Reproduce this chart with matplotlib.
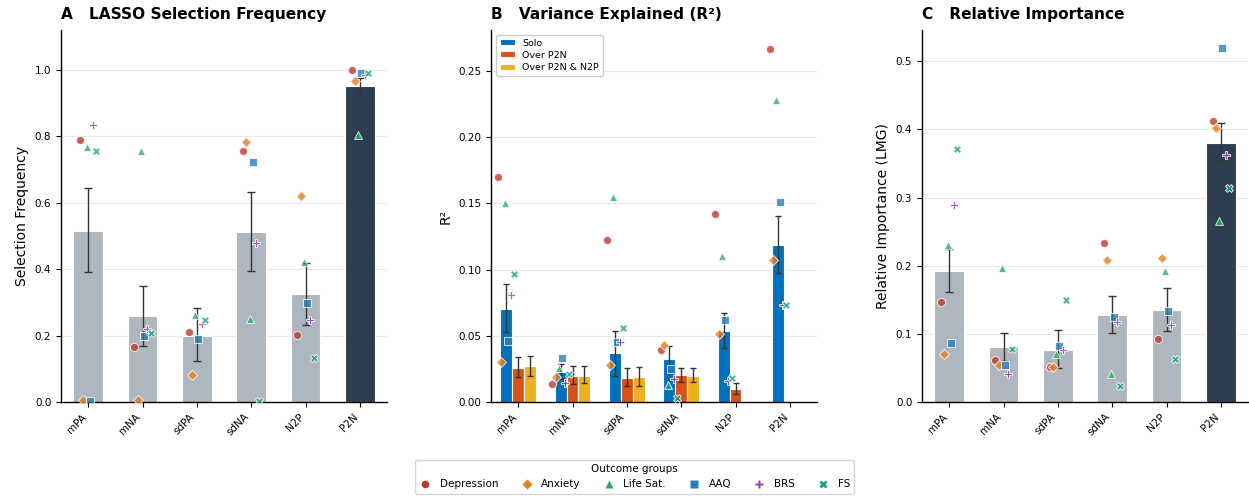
import numpy as np
import matplotlib
matplotlib.use("Agg")
import matplotlib.pyplot as plt
from matplotlib.lines import Line2D

# Data
predictors = ["mPA", "mNA", "sdPA", "sdNA", "N2P", "P2N"]
outcomes = ["Depression", "Anxiety", "Life Sat.", "AAQ", "BRS", "FS"]

# A: LASSO selection frequency (mean and error range)
lasso_mean = [0.515, 0.26, 0.20, 0.512, 0.325, 0.952]
lasso_lo = [0.39, 0.17, 0.123, 0.395, 0.233, 0.928]
lasso_hi = [0.645, 0.35, 0.283, 0.633, 0.42, 0.976]
lasso_dep = [0.79, 0.165, 0.21, 0.755, 0.203, 1.0]
lasso_anx = [0.005, 0.007, 0.082, 0.783, 0.62, 0.965]
lasso_life = [0.767, 0.757, 0.262, 0.249, 0.423, 0.805]
lasso_aaq = [0.003, 0.20, 0.189, 0.722, 0.297, 0.99]
lasso_brs = [0.833, 0.22, 0.236, 0.478, 0.246, 0.984]
lasso_fs = [0.757, 0.209, 0.248, 0.003, 0.133, 0.992]

# B: variance explained
r2_labels = ["Solo", "Over P2N", "Over P2N & N2P"]
r2_solo = [0.0702, 0.0224, 0.0368, 0.0327, 0.0536, 0.1186]
r2_solo_lo = [0.0526, 0.017, 0.020, 0.0234, 0.041, 0.0977]
r2_solo_hi = [0.089, 0.029, 0.054, 0.042, 0.0675, 0.1407]
r2_p2n = [0.026, 0.020, 0.018, 0.0204, 0.0098, np.nan]
r2_p2n_lo = [0.019, 0.0138, 0.012, 0.0149, 0.006, np.nan]
r2_p2n_hi = [0.034, 0.027, 0.0254, 0.026, 0.0146, np.nan]
r2_both = [0.027, 0.020, 0.019, 0.020, np.nan, np.nan]
r2_both_lo = [0.020, 0.014, 0.012, 0.0149, np.nan, np.nan]
r2_both_hi = [0.035, 0.027, 0.0267, 0.0258, np.nan, np.nan]
r2_dep = [0.170, 0.0135, 0.122, 0.039, 0.142, 0.267]
r2_anx = [0.030, 0.019, 0.028, 0.043, 0.051, 0.107]
r2_life = [0.150, 0.026, 0.155, 0.013, 0.110, 0.228]
r2_aaq = [0.046, 0.033, 0.045, 0.025, 0.062, 0.151]
r2_brs = [0.081, 0.014, 0.045, 0.017, 0.016, 0.073]
r2_fs = [0.097, 0.021, 0.056, 0.003, 0.018, 0.073]

# C: relative importance (LMG)
lmg_mean = [0.1926, 0.080, 0.077, 0.1276, 0.1354, 0.380]
lmg_lo = [0.161, 0.0606, 0.050, 0.1007, 0.1046, 0.353]
lmg_hi = [0.224, 0.101, 0.106, 0.156, 0.1676, 0.4096]
lmg_dep = [0.147, 0.062, 0.052, 0.233, 0.093, 0.413]
lmg_anx = [0.071, 0.054, 0.051, 0.209, 0.212, 0.402]
lmg_life = [0.230, 0.196, 0.071, 0.041, 0.192, 0.265]
lmg_aaq = [0.086, 0.055, 0.082, 0.125, 0.133, 0.519]
lmg_brs = [0.289, 0.041, 0.077, 0.118, 0.113, 0.363]
lmg_fs = [0.371, 0.078, 0.149, 0.024, 0.063, 0.314]

# Styles
out_colors = ["#c0392b", "#e67e22", "#27ae60", "#2980b9", "#8e44ad", "#16a085"]
out_markers = ["o", "D", "^", "s", "P", "X"]
out_sizes = [34, 26, 32, 28, 40, 32]
bar_gray = "#aeb6bf"
bar_dark = "#2c3e50"
r2_colors = ["#0072BD", "#D95319", "#EDB120"]
err_col = "#333333"

plt.rcParams["font.family"] = "DejaVu Sans"

fig = plt.figure(figsize=(12.49, 4.97), dpi=100)
W, H = 1249, 497
def add_ax(left_px):
    return fig.add_axes([left_px / W, 1 - 402 / H, 326 / W, 372 / H])

axA = add_ax(61)
axB = add_ax(491)
axC = add_ax(922)

x = np.arange(len(predictors))
offsets = np.linspace(-0.15, 0.15, len(outcomes))


def style_axis(ax, title, ylabel):
    for s in ["top", "right"]:
        ax.spines[s].set_visible(False)
    ax.spines["left"].set_linewidth(1.0)
    ax.spines["bottom"].set_linewidth(1.0)
    ax.yaxis.grid(True, color="#e8e8e8", linewidth=0.8)
    ax.set_axisbelow(True)
    ax.set_xlim(-0.5, len(predictors) - 0.5)
    ax.set_xticks(x)
    ax.set_xticklabels(predictors, rotation=45, ha="right", fontsize=7.5)
    ax.tick_params(axis="y", labelsize=7.5, length=3.5, width=0.8)
    ax.tick_params(axis="x", length=3.5, width=0.8)
    ax.set_ylabel(ylabel, fontsize=10)
    ax.set_title(title, loc="left", fontsize=11.1, fontweight="bold", pad=8)


def scatter_points(ax, centers, groups):
    for i, vals in enumerate(groups):
        ax.scatter(centers + offsets[i], vals, s=out_sizes[i], marker=out_markers[i],
                   color=out_colors[i], alpha=0.8, edgecolor="white",
                   linewidth=0.7, zorder=4)


def bar_panel(ax, mean, lo, hi, groups):
    colors = [bar_gray] * (len(predictors) - 1) + [bar_dark]
    ax.bar(x, mean, width=0.55, color=colors, edgecolor="white", linewidth=0.8, zorder=2)
    mean = np.array(mean)
    yerr = [mean - np.array(lo), np.array(hi) - mean]
    ax.errorbar(x, mean, yerr=yerr, fmt="none", ecolor=err_col, elinewidth=1.0,
                capsize=3, capthick=1.0, zorder=3)
    scatter_points(ax, x.astype(float), groups)


# A
bar_panel(axA, lasso_mean, lasso_lo, lasso_hi,
          [lasso_dep, lasso_anx, lasso_life, lasso_aaq, lasso_brs, lasso_fs])
axA.set_ylim(0, 1.12)
axA.set_yticks(np.arange(0, 1.01, 0.2))
axA.set_yticklabels([f"{v:.1f}" for v in np.arange(0, 1.01, 0.2)])
style_axis(axA, "A   LASSO Selection Frequency", "Selection Frequency")

# B
bw = 0.22
series = [(r2_solo, r2_solo_lo, r2_solo_hi), (r2_p2n, r2_p2n_lo, r2_p2n_hi),
          (r2_both, r2_both_lo, r2_both_hi)]
for k, (m, lo, hi) in enumerate(series):
    pos = x + (k - 1) * bw
    m = np.array(m)
    axB.bar(pos, m, width=bw, color=r2_colors[k], edgecolor="white", linewidth=0.8,
            zorder=2, label=r2_labels[k])
    axB.errorbar(pos, m, yerr=[m - np.array(lo), np.array(hi) - m], fmt="none",
                 ecolor=err_col, elinewidth=1.0, capsize=2.5, capthick=1.0, zorder=3)
scatter_points(axB, x - bw, [r2_dep, r2_anx, r2_life, r2_aaq, r2_brs, r2_fs])
axB.set_ylim(0, 0.281)
axB.set_yticks(np.arange(0, 0.251, 0.05))
axB.set_yticklabels([f"{v:.2f}" for v in np.arange(0, 0.251, 0.05)])
style_axis(axB, "B   Variance Explained (R²)", "R²")
axB.legend(loc="upper left", fontsize=6.8, handlelength=1.6, handleheight=0.6,
           borderpad=0.4, labelspacing=0.35, framealpha=1, edgecolor="#cccccc")

# C
bar_panel(axC, lmg_mean, lmg_lo, lmg_hi,
          [lmg_dep, lmg_anx, lmg_life, lmg_aaq, lmg_brs, lmg_fs])
axC.set_ylim(0, 0.546)
axC.set_yticks(np.arange(0, 0.51, 0.1))
axC.set_yticklabels([f"{v:.1f}" for v in np.arange(0, 0.51, 0.1)])
style_axis(axC, "C   Relative Importance", "Relative Importance (LMG)")

# Outcome legend
handles = [Line2D([0], [0], marker=out_markers[i], color="none",
                  markerfacecolor=out_colors[i], markeredgecolor="none",
                  markersize=5.5, label=outcomes[i]) for i in range(len(outcomes))]
fig.legend(handles=handles, loc="upper center", bbox_to_anchor=(0.508, 0.0744),
           ncol=6, fontsize=7.5, title="Outcome groups", title_fontsize=7.5,
           frameon=True, edgecolor="#cccccc", columnspacing=2.1, handlelength=1.2,
           handletextpad=0.8, borderpad=0.4, borderaxespad=0)

fig.savefig("out.png", dpi=100)
